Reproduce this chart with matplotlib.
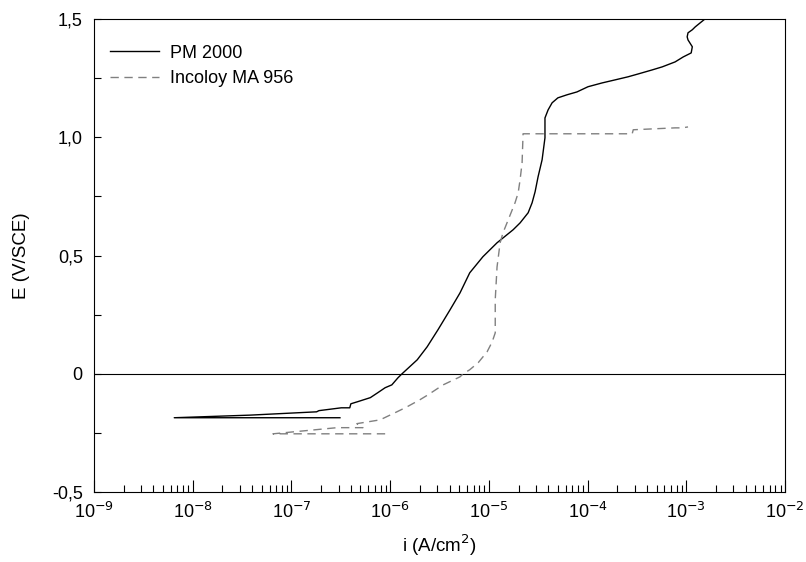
import matplotlib
matplotlib.use("Agg")
import matplotlib.pyplot as plt
from matplotlib.ticker import (FixedLocator, FuncFormatter, LogLocator,
                               MultipleLocator, NullFormatter)

plt.rcParams["font.family"] = ["Liberation Sans", "DejaVu Sans"]
plt.rcParams["axes.unicode_minus"] = False

# PM 2000 polarisation curve (current density A/cm2, potential V/SCE)
pm_i = [3.1e-7, 6.5e-9, 3.8e-8, 1.8e-7, 1.9e-7, 3.2e-7, 3.9e-7, 4.0e-7, 4.7e-7,
        6.3e-7, 7.5e-7, 8.9e-7, 1.04e-6, 1.2e-6, 1.32e-6, 1.88e-6, 2.37e-6,
        3.05e-6, 4.05e-6, 5.1e-6, 6.4e-6, 8.7e-6, 1.21e-5, 1.76e-5, 2.07e-5,
        2.5e-5, 2.74e-5, 2.94e-5, 3.15e-5, 3.46e-5, 3.7e-5, 3.7e-5, 3.98e-5,
        4.37e-5, 5.0e-5, 6.2e-5, 7.8e-5, 1.01e-4, 1.4e-4, 1.9e-4, 2.57e-4,
        3.25e-4, 4.5e-4, 5.7e-4, 7.7e-4, 9.3e-4, 1.12e-3, 1.15e-3, 1.04e-3,
        1.02e-3, 1.04e-3, 1.15e-3, 1.23e-3, 1.38e-3, 1.55e-3]
pm_e = [-0.186, -0.186, -0.175, -0.161, -0.156, -0.144, -0.144, -0.127, -0.118,
        -0.101, -0.080, -0.059, -0.047, -0.017, 0.0, 0.059, 0.114,
        0.186, 0.271, 0.342, 0.427, 0.495, 0.554, 0.609, 0.638,
        0.681, 0.723, 0.770, 0.833, 0.905, 0.998, 1.082, 1.116,
        1.146, 1.167, 1.180, 1.192, 1.214, 1.230, 1.243, 1.256,
        1.268, 1.285, 1.298, 1.319, 1.340, 1.357, 1.383, 1.412,
        1.425, 1.442, 1.455, 1.467, 1.484, 1.501]

# Incoloy MA 956 polarisation curve
ma_i = [8.9e-7, 6.5e-8, 2.9e-7, 5.3e-7, 4.6e-7, 7.9e-7, 1.17e-6, 1.48e-6,
        2.0e-6, 2.42e-6, 3.44e-6, 5.1e-6, 5.5e-6, 6.4e-6, 7.8e-6, 9.6e-6,
        1.08e-5, 1.16e-5, 1.16e-5, 1.21e-5, 1.30e-5, 1.39e-5, 1.57e-5, 1.84e-5,
        1.98e-5, 2.07e-5, 2.17e-5, 2.22e-5, 2.83e-4, 2.9e-4, 7.7e-4, 9.1e-4,
        1.04e-3]
ma_e = [-0.254, -0.254, -0.228, -0.228, -0.211, -0.195, -0.161, -0.140,
        -0.110, -0.089, -0.047, -0.013, 0.0, 0.017, 0.047, 0.093,
        0.135, 0.173, 0.313, 0.452, 0.554, 0.596, 0.651, 0.723,
        0.765, 0.820, 0.892, 1.015, 1.015, 1.032, 1.040, 1.040,
        1.044]

# x tick decades
x_decades = [-9, -8, -7, -6, -5, -4, -3, -2]

fig = plt.figure(figsize=(8.06, 5.62), dpi=100)
ax = fig.add_axes([0.1166, 0.1246, 0.8574, 0.8414])

ax.axhline(0, color="black", lw=0.8)
ax.plot(pm_i, pm_e, color="black", lw=1.0, label="PM 2000")
ax.plot(ma_i, ma_e, color="#808080", lw=1.0, dashes=(6, 4), label="Incoloy MA 956")

ax.set_xscale("log")
ax.set_xlim(1e-9, 1e-2)
ax.set_ylim(-0.5, 1.5)

ax.xaxis.set_major_locator(FixedLocator([10.0 ** d for d in x_decades]))
ax.xaxis.set_major_formatter(
    FuncFormatter(lambda v, p: f"10$^{{{round(__import__('math').log10(v))}}}$")
)
ax.xaxis.set_minor_locator(LogLocator(base=10, subs=range(2, 10), numticks=12))
ax.xaxis.set_minor_formatter(NullFormatter())
ax.yaxis.set_major_locator(MultipleLocator(0.5))
ax.yaxis.set_minor_locator(MultipleLocator(0.25))
ax.yaxis.set_major_formatter(
    FuncFormatter(lambda v, p: "0" if abs(v) < 1e-9 else f"{v:.1f}".replace(".", ","))
)

ax.tick_params(which="both", direction="in", width=0.8, labelsize=13,
               top=False, right=False)
ax.tick_params(axis="x", which="major", length=9, pad=7)
ax.tick_params(axis="x", which="minor", length=5)
ax.tick_params(axis="y", which="both", length=5, pad=8)

ax.set_xlabel("i (A/cm$^2$)", fontsize=13.5, labelpad=8)
ax.set_ylabel("E (V/SCE)", fontsize=13.5, labelpad=16)

ax.legend(loc="upper left", bbox_to_anchor=(0.0, 0.98), frameon=False,
          fontsize=13, handlelength=2.7, labelspacing=0.45, handletextpad=0.6)

fig.savefig("out.png", dpi=100)
